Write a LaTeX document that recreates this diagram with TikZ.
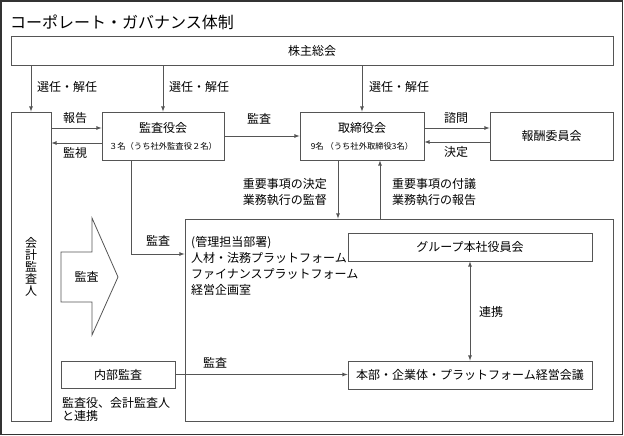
\documentclass[tikz,border=0pt]{standalone}
\usepackage{fontspec}
\setmainfont{Noto Sans CJK JP}
\usetikzlibrary{arrows, positioning, calc}
\definecolor{linegray}{RGB}{85,85,85}

\begin{document}
\begin{tikzpicture}[x=1pt, y=-1pt,
    every node/.style={font=\fontsize{12}{16}\selectfont, inner sep=0pt},
    box/.style={draw=linegray, line width=0.8pt, align=center},
    conn/.style={draw=linegray, line width=0.8pt, -latex},
    subtext/.style={font=\fontsize{8.3}{10}\selectfont}]
\useasboundingbox (0,0) rectangle (624,436);
\draw[line width=1.2pt, black!80] (1,1) rectangle (622.5,434.5);

% Title and shareholders
\node[anchor=west, font=\fontsize{16}{20}\selectfont] (title) at (10,22) {コーポレート・ガバナンス体制};
\node[box, minimum width=602, minimum height=29] (kabu) at (312,50.5) {株主総会};

% Boards
\node[box, minimum width=40, minimum height=309, font=\fontsize{12}{12}\selectfont] (kaikei) at (31,266.5) {会\\計\\監\\査\\人};
\node[box, minimum width=122, minimum height=48] (kansa) at (163,136) {};
\node (kansa-name) at (163,128) {監査役会};
\node[subtext] (kansa-sub) at (163,146) {３名（うち社外監査役２名）};
\node[box, minimum width=124, minimum height=48] (tori) at (362,136) {};
\node (tori-name) at (362,128) {取締役会};
\node[subtext] (tori-sub) at (362,146) {9名 （うち社外取締役3名）};
\node[box, minimum width=123, minimum height=48] (housyu) at (551.5,136) {報酬委員会};

% Executive side
\node[box, minimum width=428, minimum height=202] (kanri) at (399,320) {};
\node[anchor=north west, align=left] (kanri-text) at (191,236) {(管理担当部署)\\人材・法務プラットフォーム\\ファイナンスプラットフォーム\\経営企画室};
\node[box, minimum width=244, minimum height=28] (group) at (470,247) {グループ本社役員会};
\node[box, minimum width=244, minimum height=28] (honbu) at (470,375) {本部・企業体・プラットフォーム経営会議};
\node[box, minimum width=114, minimum height=27] (naibu) at (118,374.5) {内部監査};
\node[anchor=north west, align=left, font=\fontsize{12}{13}\selectfont] (naibu-note) at (62,397) {監査役、会計監査人\\と連携};

% Big audit arrow
\draw[linegray, line width=0.8pt] (61,252) -- (92,252) -- (92,218) -- (118,277) -- (92,335) -- (92,302) -- (61,302) -- cycle;
\node (kansa-lbl3) at (86.5,277) {監査};

% Connectors
\draw[conn] (kabu.south -| kaikei.north) -- (kaikei.north);
\draw[conn] (kabu.south -| kansa.north) -- (kansa.north);
\draw[conn] (kabu.south -| tori.north) -- (tori.north);
\node[anchor=west] (sennin-1) at (37,87) {選任・解任};
\node[anchor=west] (sennin-2) at (169,87) {選任・解任};
\node[anchor=west] (sennin-3) at (369,87) {選任・解任};

\draw[conn] ([yshift=8pt]kaikei.east |- kansa.west) -- ([yshift=8pt]kansa.west);
\draw[conn] ([yshift=-7pt]kansa.west) -- ([yshift=-7pt]kaikei.east |- kansa.west);
\node (houkoku) at (75,118) {報告};
\node (kanshi) at (75,153) {監視};

\draw[conn] (kansa.east) -- (tori.west);
\node (kansa-lbl1) at (259,119) {監査};

\draw[conn] ([yshift=8pt]tori.east) -- ([yshift=8pt]housyu.west);
\draw[conn] ([yshift=-6pt]housyu.west) -- ([yshift=-6pt]tori.east);
\node (shimon) at (456,118) {諮問};
\node (kettei) at (456,152) {決定};

\draw[conn] ([xshift=-24pt]tori.south) -- ([xshift=-24pt]tori.south |- kanri.north);
\draw[conn] ([xshift=18pt]tori.south |- kanri.north) -- ([xshift=18pt]tori.south);
\node[anchor=east, align=left] (juyo-1) at (327,192) {重要事項の決定\\業務執行の監督};
\node[anchor=west, align=left] (juyo-2) at (392,192) {重要事項の付議\\業務執行の報告};

\draw[conn] ([xshift=-32pt]kansa.south) |- ([yshift=66pt]kanri.west);
\node (kansa-lbl2) at (158,241) {監査};

\draw[conn] (naibu.east) -- (naibu.east -| honbu.west);
\node (kansa-lbl4) at (215,363) {監査};

\draw[conn, latex-latex] (group.south) -- (honbu.north);
\node (renkei) at (491,312) {連携};
\end{tikzpicture}
\end{document}
